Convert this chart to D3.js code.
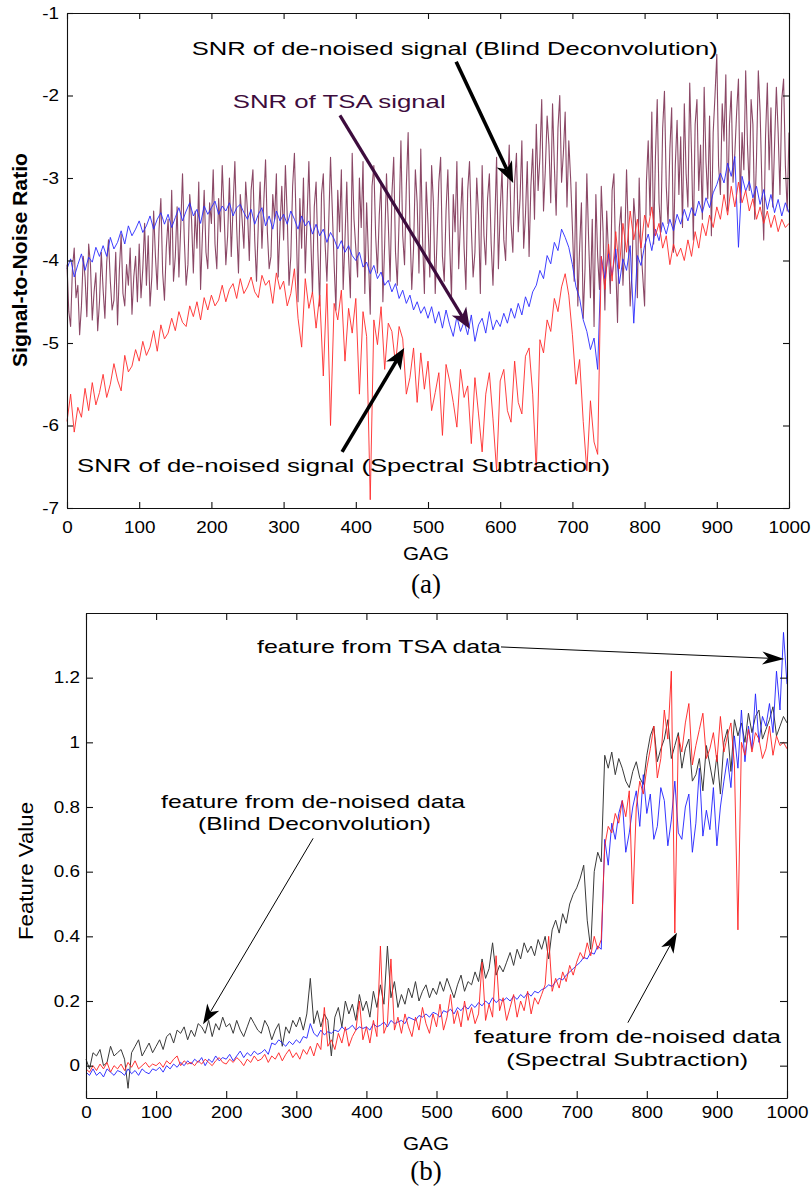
<!DOCTYPE html>
<html>
<head>
<meta charset="utf-8">
<script src="https://cdn.jsdelivr.net/npm/d3@7/dist/d3.min.js"></script>
<style>
  body { margin: 0; background: #fff; }
  svg { display: block; }
</style>
</head>
<body>
<div id="chart"></div>
<script>
// GAG spacing of the samples in each series (all series run 0..1000)
var fineStep = 2.5;
var gagStep = 5;
var xTicks = [0, 100, 200, 300, 400, 500, 600, 700, 800, 900, 1000];
var snrTicks = [-7, -6, -5, -4, -3, -2, -1];
var featTicks = [0, 0.2, 0.4, 0.6, 0.8, 1, 1.2];

// (a) SNR of de-noised signal (Blind Deconvolution), every 2.5 GAG
var snrBlind = [
  -4.05, -4.62, -4.80, -4.10, -3.85, -4.45, -4.30, -4.90, -4.55, -3.95, -4.20, -4.68, -3.80, -4.05, -4.72, -4.38, -4.15, -4.85, -4.50, -3.90,
  -4.35, -4.70, -4.02, -3.75, -4.25, -4.60, -4.48, -3.90, -4.78, -4.12, -3.68, -4.40, -4.55, -4.05, -4.30, -3.85, -4.65, -4.20, -3.95, -4.50,
  -3.80, -4.45, -4.10, -3.55, -4.30, -3.70, -4.55, -4.20, -3.40, -3.95, -4.35, -3.62, -3.25, -4.15, -4.48, -3.85, -3.50, -4.05, -3.15, -4.25,
  -3.95, -3.35, -4.20, -3.60, -2.95, -3.75, -4.30, -4.05, -3.20, -3.50, -4.15, -3.40, -3.85, -3.05, -4.35, -3.70, -3.15, -3.90, -4.10, -3.30,
  -3.55, -2.90, -3.80, -4.10, -3.25, -3.65, -2.85, -3.40, -4.05, -3.70, -3.00, -3.95, -3.35, -2.80, -3.60, -4.15, -3.20, -3.50, -3.85, -3.05,
  -3.40, -4.00, -3.15, -2.90, -3.75, -4.25, -3.55, -3.05, -3.85, -3.30, -2.78, -3.65, -4.10, -3.95, -3.20, -3.50, -2.95, -4.20, -3.60, -3.10,
  -3.75, -2.85, -3.45, -4.30, -3.95, -3.10, -2.70, -3.60, -4.50, -3.25, -3.85, -3.00, -4.15, -3.50, -2.80, -3.70, -4.40, -3.35, -3.05, -3.90,
  -4.55, -3.20, -2.95, -3.80, -4.25, -3.55, -2.75, -3.40, -4.05, -4.60, -3.15, -3.65, -2.90, -4.35, -3.75, -3.05, -3.95, -4.45, -2.70, -3.50,
  -3.85, -4.20, -3.00, -3.60, -2.80, -4.40, -3.30, -3.95, -4.65, -3.10, -2.85, -3.70, -4.15, -3.45, -3.05, -4.50, -3.80, -2.95, -3.55, -4.25,
  -3.20, -2.75, -3.90, -4.30, -3.50, -2.55, -3.70, -4.05, -3.10, -2.45, -3.60, -4.35, -3.85, -2.90, -3.30, -4.15, -2.65, -3.75, -4.40, -3.05,
  -3.55, -4.20, -2.85, -3.30, -4.40, -3.75, -3.05, -2.75, -3.95, -4.25, -3.40, -2.90, -3.80, -4.45, -3.20, -3.65, -2.80, -4.10, -3.50, -3.00,
  -3.85, -4.35, -3.15, -2.80, -3.60, -4.20, -3.90, -3.00, -3.45, -4.40, -2.85, -3.70, -4.05, -3.25, -2.95, -3.80, -4.30, -3.55, -2.75, -4.10,
  -3.40, -2.90, -3.75, -4.00, -3.15, -2.60, -3.55, -3.90, -3.05, -2.70, -3.65, -3.25, -2.55, -3.85, -3.45, -2.80, -3.95, -3.10, -2.65, -3.50,
  -2.35, -3.15, -2.75, -2.05, -3.40, -2.90, -2.25, -2.60, -3.30, -2.10, -2.85, -3.45, -2.40, -2.00, -3.05, -2.70, -2.20, -3.35, -2.55, -3.00,
  -3.60, -4.25, -3.05, -4.55, -3.85, -3.30, -4.70, -4.10, -2.95, -3.75, -4.45, -3.50, -4.80, -3.20, -3.95, -4.35, -3.10, -3.65, -4.60, -3.40,
  -3.90, -4.40, -3.15, -2.95, -4.05, -4.75, -3.60, -3.35, -4.30, -3.80, -2.90, -3.70, -4.55, -4.15, -3.25, -3.55, -4.45, -3.00, -3.85, -4.20,
  -4.55, -3.05, -2.55, -3.45, -2.20, -3.80, -2.75, -2.05, -3.30, -3.65, -2.40, -1.95, -3.10, -3.55, -2.65, -2.15, -3.90, -2.85, -2.30, -3.20,
  -2.50, -3.60, -2.10, -2.95, -3.35, -1.85, -2.70, -3.75, -2.35, -2.05, -3.15, -2.60, -3.50, -1.90, -2.80, -3.25, -2.25, -3.70, -2.45, -2.00,
  -1.50, -2.85, -3.20, -2.10, -2.55, -1.75, -3.40, -2.35, -1.95, -3.05, -2.70, -2.20, -1.80, -3.30, -2.45, -2.90, -1.70, -2.60, -3.15, -2.05,
  -2.35, -3.50, -2.75, -1.70, -2.20, -3.10, -3.75, -2.50, -1.85, -2.90, -2.15, -3.35, -2.60, -1.90, -2.45, -3.20, -2.05, -1.80, -2.85, -3.40,
  -2.45
];

// (a) SNR of TSA signal, every 5 GAG
var snrTsa = [
  -4.10, -3.98, -4.20, -4.05, -3.92, -4.12, -3.96, -4.02, -3.84, -3.95,
  -3.82, -3.95, -3.72, -3.86, -3.78, -3.64, -3.80, -3.58, -3.70, -3.62,
  -3.52, -3.66, -3.58, -3.46, -3.62, -3.50, -3.42, -3.56, -3.44, -3.60,
  -3.48, -3.36, -3.52, -3.40, -3.30, -3.46, -3.38, -3.55, -3.34, -3.44,
  -3.36, -3.28, -3.44, -3.34, -3.40, -3.30, -3.46, -3.36, -3.32, -3.42,
  -3.50, -3.38, -3.56, -3.44, -3.36, -3.58, -3.46, -3.62, -3.40, -3.52,
  -3.44, -3.56, -3.40, -3.50, -3.62, -3.46, -3.58, -3.52, -3.68, -3.56,
  -3.70, -3.62, -3.78, -3.66, -3.74, -3.86, -3.76, -3.90, -3.82, -3.94,
  -4.00, -3.90, -4.08, -4.02, -4.16, -4.06, -4.22, -4.14, -4.30, -4.24,
  -4.38, -4.28, -4.46, -4.36, -4.52, -4.42, -4.60, -4.50, -4.64, -4.56,
  -4.70, -4.56, -4.76, -4.62, -4.82, -4.60, -4.78, -4.92, -4.68, -4.86,
  -4.74, -4.90, -4.66, -4.98, -4.78, -4.70, -4.88, -4.62, -4.84, -4.72,
  -4.80, -4.64, -4.76, -4.58, -4.70, -4.52, -4.66, -4.44, -4.56, -4.38,
  -4.30, -4.12, -4.22, -3.94, -4.04, -3.78, -3.88, -3.62, -3.72, -3.84,
  -4.05, -4.32, -4.46, -4.72, -4.86, -5.08, -4.94, -5.32, -3.95, -4.22,
  -3.92, -4.18, -3.86, -4.28, -3.98, -4.12, -3.82, -4.76, -3.94, -4.06,
  -3.82, -3.68, -3.88, -3.62, -3.76, -3.54, -3.68, -3.50, -3.64, -3.44,
  -3.56, -3.38, -3.52, -3.36, -3.46, -3.28, -3.42, -3.24, -3.36, -3.18,
  -3.08, -2.94, -3.06, -2.82, -2.98, -2.74, -3.84, -2.98, -3.16, -3.04,
  -3.24, -3.10, -3.32, -3.14, -3.38, -3.20, -3.42, -3.26, -3.46, -3.30,
  -3.42
];

// (a) SNR of de-noised signal (Spectral Subtraction), every 5 GAG
var snrSpectral = [
  -5.95, -5.62, -6.08, -5.78, -5.90, -5.55, -5.82, -5.48, -5.75, -5.60,
  -5.38, -5.66, -5.50, -5.25, -5.45, -5.58, -5.15, -5.35, -5.28, -5.08,
  -5.22, -4.98, -5.15, -5.05, -4.85, -5.10, -4.78, -4.95, -4.88, -4.70,
  -4.85, -4.62, -4.75, -4.80, -4.55, -4.68, -4.50, -4.72, -4.45, -4.60,
  -4.42, -4.55, -4.48, -4.30, -4.50, -4.35, -4.28, -4.46, -4.22, -4.40,
  -4.32, -4.20, -4.38, -4.45, -4.18, -4.30, -4.24, -4.52, -4.15, -4.35,
  -4.25, -4.55, -4.40, -4.10, -4.70, -5.05, -4.22, -4.58, -4.38, -4.82,
  -4.42, -5.40, -4.28, -6.00, -4.52, -4.72, -4.36, -5.22, -4.58, -4.88,
  -4.46, -5.62, -4.62, -4.92, -6.90, -4.72, -5.02, -4.56, -5.32, -4.76,
  -4.86, -5.26, -4.80, -4.95, -5.62, -5.42, -5.06, -5.72, -5.12, -5.56,
  -5.22, -5.82, -5.60, -5.36, -6.12, -5.26, -5.46, -5.72, -6.02, -5.32,
  -5.66, -5.52, -6.22, -5.42, -5.86, -6.32, -5.62, -5.36, -5.92, -6.55,
  -5.46, -5.32, -5.82, -5.96, -5.22, -5.72, -5.86, -5.16, -5.06, -5.62,
  -6.55, -4.96, -5.12, -4.72, -4.86, -4.46, -4.62, -4.32, -4.16, -4.42,
  -4.90, -5.50, -5.20, -5.95, -6.55, -5.70, -6.20, -6.35, -3.95, -4.35,
  -3.80, -4.25, -3.65, -4.10, -3.55, -3.90, -3.40, -3.75, -3.50, -3.85,
  -3.45, -3.60, -3.35, -3.70, -3.55, -3.85, -3.70, -4.05, -3.80, -3.95,
  -3.85, -4.00, -3.75, -3.95, -3.65, -3.85, -3.55, -3.70, -3.45, -3.60,
  -3.35, -3.50, -3.20, -3.45, -3.10, -3.35, -3.05, -3.30, -3.15, -3.40,
  -3.25, -3.50, -3.35, -3.55, -3.40, -3.60, -3.45, -3.65, -3.50, -3.60,
  -3.55
];

// (b) feature from de-noised data (Blind Deconvolution), every 5 GAG
var featBlind = [
  0.02, -0.01, 0.04, 0.03, 0.05, 0.00, 0.01, 0.06, 0.03, 0.04,
  0.05, 0.02, -0.07, 0.04, 0.06, 0.08, 0.03, 0.05, 0.07, 0.04,
  0.06, 0.08, 0.05, 0.09, 0.10, 0.07, 0.11, 0.10, 0.12, 0.08,
  0.11, 0.09, 0.13, 0.12, 0.10, 0.14, 0.09, 0.13, 0.11, 0.15,
  0.12, 0.13, 0.10, 0.14, 0.11, 0.09, 0.12, 0.15, 0.13, 0.11,
  0.10, 0.14, 0.12, 0.08, 0.11, 0.13, 0.06, 0.12, 0.10, 0.14,
  0.12, 0.15, 0.11, 0.16, 0.27, 0.13, 0.17, 0.12, 0.16, 0.14,
  0.03, 0.15, 0.18, 0.12, 0.20, 0.16, 0.19, 0.14, 0.22, 0.17,
  0.20, 0.15, 0.23, 0.18, 0.25, 0.19, 0.37, 0.21, 0.26, 0.18,
  0.22, 0.19, 0.24, 0.21, 0.26, 0.20, 0.23, 0.25, 0.21, 0.24,
  0.22, 0.26, 0.23, 0.27, 0.24, 0.21, 0.25, 0.28, 0.23, 0.26,
  0.25, 0.29, 0.26, 0.33, 0.27, 0.30, 0.38, 0.28, 0.31, 0.29,
  0.32, 0.35, 0.31, 0.36, 0.33, 0.38, 0.35, 0.37, 0.34, 0.39,
  0.36, 0.40, 0.33, 0.42, 0.45, 0.41, 0.47, 0.44, 0.50, 0.53,
  0.55, 0.58, 0.62, 0.45, 0.36, 0.60, 0.66, 0.63, 0.96, 0.92,
  0.97, 0.90, 0.95, 0.92, 0.88, 0.86, 0.91, 0.94, 0.89, 0.87,
  0.96, 1.02, 1.05, 0.94, 0.98, 1.01, 1.07, 0.95, 0.99, 1.03,
  0.92, 0.98, 1.01, 0.88, 0.90, 0.95, 0.85, 0.99, 0.93, 0.87,
  0.96, 0.84, 1.00, 1.04, 0.91, 1.07, 1.02, 1.06, 1.00, 1.09,
  1.03, 1.08, 1.10, 1.01, 1.04, 1.07, 1.11, 1.02, 1.05, 1.08,
  1.06
];

// (b) feature from TSA data, every 5 GAG
var featTsa = [
  -0.02, -0.03, -0.01, -0.03, -0.02, -0.035, -0.01, -0.02, -0.03, -0.015,
  -0.02, -0.03, -0.01, -0.025, -0.015, -0.03, -0.01, -0.02, -0.025, -0.01,
  -0.015, -0.005, -0.02, 0.0, -0.01, 0.005, -0.005, 0.01, 0.0, 0.015,
  0.005, 0.02, 0.01, 0.025, 0.0, 0.02, 0.01, 0.03, 0.015, 0.025,
  0.02, 0.035, 0.015, 0.03, 0.045, 0.025, 0.04, 0.03, 0.045, 0.035,
  0.04, 0.05, 0.035, 0.07, 0.065, 0.08, 0.07, 0.06, 0.075, 0.065,
  0.08, 0.07, 0.09, 0.085, 0.13, 0.10, 0.09, 0.11, 0.095, 0.105,
  0.10, 0.11, 0.105, 0.12, 0.11, 0.115, 0.125, 0.11, 0.12, 0.115,
  0.12, 0.11, 0.13, 0.12, 0.125, 0.135, 0.12, 0.14, 0.13, 0.135,
  0.14, 0.13, 0.15, 0.145, 0.14, 0.155, 0.15, 0.16, 0.15, 0.165,
  0.16, 0.15, 0.17, 0.165, 0.175, 0.16, 0.18, 0.17, 0.185, 0.175,
  0.19, 0.18, 0.195, 0.185, 0.20, 0.19, 0.21, 0.195, 0.205, 0.20,
  0.21, 0.20, 0.215, 0.205, 0.22, 0.21, 0.225, 0.215, 0.23, 0.225,
  0.235, 0.24, 0.25, 0.245, 0.26, 0.27, 0.265, 0.28, 0.29, 0.30,
  0.31, 0.32, 0.335, 0.33, 0.35, 0.345, 0.37, 0.36, 0.70, 0.62,
  0.75, 0.70, 0.78, 0.82, 0.66, 0.72, 0.80, 0.85, 0.74, 0.90,
  0.78, 0.84, 0.70, 0.74, 0.86, 0.82, 0.68, 0.76, 0.88, 0.72,
  0.70, 0.80, 0.84, 0.66, 0.75, 0.92, 0.71, 0.79, 0.73, 0.86,
  0.68, 0.80, 0.88, 0.95, 0.86, 1.02, 0.92, 1.10, 0.94, 1.05,
  0.98, 1.15, 1.00, 1.08, 1.05, 1.12, 1.03, 1.22, 1.10, 1.34,
  1.18
];

// (b) feature from de-noised data (Spectral Subtraction), every 5 GAG
var featSpectral = [
  -0.01, -0.02, 0.0, -0.015, 0.005, -0.01, 0.01, -0.02, 0.0, -0.01,
  0.005, -0.015, 0.01, -0.005, 0.015, -0.01, 0.0, 0.01, -0.005, 0.005,
  0.0, 0.01, -0.005, 0.015, 0.005, 0.02, 0.03, 0.0, 0.015, 0.005,
  0.01, 0.0, 0.015, 0.005, 0.02, 0.01, 0.0, 0.015, 0.025, 0.01,
  0.005, 0.02, 0.01, 0.025, 0.015, 0.0, 0.02, 0.01, 0.03, 0.015,
  0.02, 0.035, 0.01, 0.03, 0.02, 0.04, 0.015, 0.035, 0.05, 0.025,
  0.04, 0.02, 0.05, 0.035, 0.06, 0.03, 0.07, 0.05, 0.18, 0.06,
  0.08, 0.05, 0.10, 0.07, 0.12, 0.06, 0.09, 0.11, 0.20, 0.08,
  0.12, 0.07, 0.14, 0.09, 0.37, 0.10, 0.13, 0.33, 0.11, 0.15,
  0.10, 0.16, 0.12, 0.09, 0.15, 0.11, 0.18, 0.13, 0.10, 0.16,
  0.12, 0.19, 0.11, 0.15, 0.22, 0.13, 0.17, 0.12, 0.20, 0.14,
  0.18, 0.13, 0.16, 0.32, 0.14, 0.19, 0.15, 0.34, 0.17, 0.21,
  0.14, 0.18, 0.22, 0.15, 0.20, 0.17, 0.23, 0.16, 0.21, 0.19,
  0.22, 0.25, 0.40, 0.23, 0.27, 0.24, 0.29, 0.26, 0.31, 0.28,
  0.32, 0.35, 0.33, 0.38, 0.34, 0.40, 0.36, 0.39, 0.68, 0.74,
  0.72, 0.78, 0.75, 0.82, 0.77, 0.85, 0.50, 0.80, 0.88, 0.84,
  0.92, 0.98, 1.05, 0.89, 0.95, 1.10, 1.01, 1.22, 0.41, 1.02,
  0.97, 1.06, 1.12, 0.93, 0.99, 1.04, 1.09, 0.95, 0.98, 1.03,
  0.94, 1.08, 0.97, 1.02, 1.06, 0.93, 0.42, 1.00, 0.96, 1.04,
  0.97, 1.03, 1.01, 0.95, 0.98, 1.05, 0.96, 1.02, 0.99, 1.00,
  0.98
];

var sans = 'Liberation Sans, Arial, Helvetica, sans-serif';
var tickStretch = 1.18;

var svg = d3.select('#chart').append('svg')
  .attr('width', 812)
  .attr('height', 1187);
svg.append('rect')
  .attr('width', 812)
  .attr('height', 1187)
  .attr('fill', '#fff');

// panel (a)
var xA = d3.scaleLinear().domain([0, 1000]).range([67, 789]);
var yA = d3.scaleLinear().domain([-7, -1]).range([508, 13]);
// panel (b)
var xB = d3.scaleLinear().domain([0, 1000]).range([86, 787]);
var yB = d3.scaleLinear().domain([-0.1, 1.4]).range([1098, 613]);

function drawFrame(x, y, yTicks, tick, padX, padY) {
  var x0 = x.range()[0], x1 = x.range()[1];
  var y0 = y.range()[1], y1 = y.range()[0];

  var bottom = svg.append('g')
    .attr('transform', 'translate(0,' + y1 + ')')
    .call(d3.axisBottom(x).tickValues(xTicks).tickSizeInner(-tick)
      .tickSizeOuter(0).tickPadding(padX).tickFormat(function (d) { return String(d); }));
  var left = svg.append('g')
    .attr('transform', 'translate(' + x0 + ',0)')
    .call(d3.axisLeft(y).tickValues(yTicks).tickSizeInner(-tick)
      .tickSizeOuter(0).tickPadding(padY).tickFormat(function (d) { return String(d); }));
  var top = svg.append('g')
    .attr('transform', 'translate(0,' + y0 + ')')
    .call(d3.axisTop(x).tickValues(xTicks).tickSizeInner(-tick)
      .tickSizeOuter(0).tickFormat(''));
  var right = svg.append('g')
    .attr('transform', 'translate(' + x1 + ',0)')
    .call(d3.axisRight(y).tickValues(yTicks).tickSizeInner(-tick)
      .tickSizeOuter(0).tickFormat(''));

  [bottom, left, top, right].forEach(function (g) {
    g.attr('color', '#111').attr('font-family', sans).attr('font-size', 16);
    g.selectAll('path, line').attr('stroke-width', 1.1);
  });
  bottom.selectAll('.tick text')
    .attr('fill', '#000')
    .attr('transform', 'scale(' + tickStretch + ',1)');
  left.selectAll('.tick text')
    .attr('fill', '#000')
    .attr('x', -padY / tickStretch)
    .attr('transform', 'scale(' + tickStretch + ',1)');
}

function drawSeries(x, y, values, step, color, width, opacity) {
  var line = d3.line()
    .x(function (_, i) { return x(i * step); })
    .y(function (d) { return y(d); });
  svg.append('path')
    .datum(values)
    .attr('fill', 'none')
    .attr('stroke', color)
    .attr('stroke-width', width)
    .attr('stroke-opacity', opacity)
    .attr('stroke-linejoin', 'round')
    .attr('d', line);
}

// stretched sans text of a given width, centred on x
function note(x, y, str, size, len, color, weight) {
  return svg.append('text')
    .attr('x', x - len / 2)
    .attr('y', y)
    .attr('font-family', sans)
    .attr('font-size', size)
    .attr('font-weight', weight || 'normal')
    .attr('fill', color || '#000')
    .attr('textLength', len)
    .attr('lengthAdjust', 'spacingAndGlyphs')
    .text(str);
}

function arrow(x1, y1, x2, y2, width, len, half, color) {
  var a = Math.atan2(y2 - y1, x2 - x1);
  var c = Math.cos(a), s = Math.sin(a);
  var bx = x2 - len * c, by = y2 - len * s;
  var nx = x2 - len * 0.72 * c, ny = y2 - len * 0.72 * s;
  svg.append('line')
    .attr('x1', x1).attr('y1', y1)
    .attr('x2', nx).attr('y2', ny)
    .attr('stroke', color)
    .attr('stroke-width', width);
  svg.append('path')
    .attr('d', 'M' + x2 + ',' + y2 +
      'L' + (bx - half * s) + ',' + (by + half * c) +
      'L' + nx + ',' + ny +
      'L' + (bx + half * s) + ',' + (by - half * c) + 'Z')
    .attr('fill', color);
}

// ----- panel (a) -----
drawSeries(xA, yA, snrBlind, fineStep, '#6e1a40', 1.1, 0.8);
drawSeries(xA, yA, snrTsa, gagStep, '#2a2aff', 0.9, 1);
drawSeries(xA, yA, snrSpectral, gagStep, '#ff2a2a', 0.9, 1);
drawFrame(xA, yA, snrTicks, 6, 14, 8);

note(xA(537), yA(-1.51), 'SNR of de-noised signal (Blind Deconvolution)', 18.5, 526, '#000');
arrow(xA(539), yA(-1.59), xA(618), yA(-3.06), 3.6, 21, 8.5, '#000');
note(xA(377), yA(-2.15), 'SNR of TSA signal', 18.5, 213, '#3d0c3d');
arrow(xA(378), yA(-2.24), xA(558), yA(-4.83), 3.2, 21, 8.5, '#3d0c3d');
note(xA(383), yA(-6.56), 'SNR of de-noised signal (Spectral Subtraction)', 18.5, 533, '#000');
arrow(xA(381), yA(-6.32), xA(467), yA(-5.06), 3.6, 21, 8.5, '#000');

note(426, 560, 'GAG', 19, 46, '#000');
svg.append('text')
  .attr('transform', 'translate(27,260) rotate(-90)')
  .attr('x', -107)
  .attr('font-family', sans)
  .attr('font-size', 20)
  .attr('font-weight', 'bold')
  .attr('textLength', 214)
  .attr('lengthAdjust', 'spacingAndGlyphs')
  .text('Signal-to-Noise Ratio');
svg.append('text')
  .attr('x', 426)
  .attr('y', 593)
  .attr('text-anchor', 'middle')
  .attr('font-family', 'Liberation Serif, Times New Roman, serif')
  .attr('font-size', 27)
  .text('(a)');

// ----- panel (b) -----
drawSeries(xB, yB, featBlind, gagStep, '#3a3a3a', 1, 1);
drawSeries(xB, yB, featTsa, gagStep, '#2020ff', 0.9, 1);
drawSeries(xB, yB, featSpectral, gagStep, '#ff1f1f', 0.9, 1);
drawFrame(xB, yB, featTicks, 7, 9, 6);

note(xB(418), yB(1.276), 'feature from TSA data', 19, 244, '#000');
arrow(xB(592), yB(1.295), xB(996), yB(1.258), 1, 22, 6.5, '#000');
note(xB(324), yB(0.797), 'feature from de-noised data', 19, 304, '#000');
note(xB(326), yB(0.729), '(Blind Deconvolution)', 19, 233, '#000');
arrow(xB(324), yB(0.703), xB(167), yB(0.128), 1, 20, 7, '#000');
note(xB(772.5), yB(0.069), 'feature from de-noised data', 19, 307, '#000');
note(xB(772), yB(0.0), '(Spectral Subtraction)', 19, 242, '#000');
arrow(xB(773), yB(0.133), xB(843), yB(0.411), 1, 20, 7, '#000');

note(426, 1150, 'GAG', 19, 46, '#000');
svg.append('text')
  .attr('transform', 'translate(33,871) rotate(-90)')
  .attr('x', -69)
  .attr('font-family', sans)
  .attr('font-size', 21)
  .attr('textLength', 138)
  .attr('lengthAdjust', 'spacingAndGlyphs')
  .text('Feature Value');
svg.append('text')
  .attr('x', 426)
  .attr('y', 1180)
  .attr('text-anchor', 'middle')
  .attr('font-family', 'Liberation Serif, Times New Roman, serif')
  .attr('font-size', 27)
  .text('(b)');
</script>
</body>
</html>
